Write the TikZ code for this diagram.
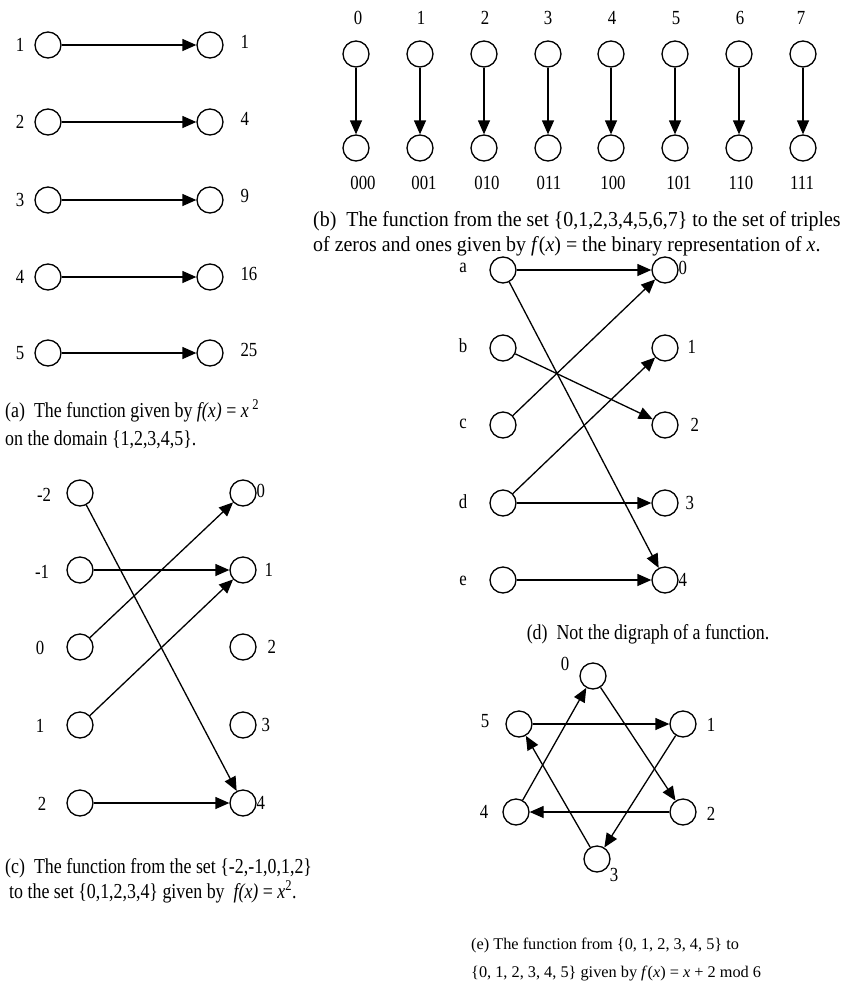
\documentclass[tikz,border=0pt]{standalone}
\usepackage{fontspec}
\setmainfont{Liberation Serif}[FakeStretch=0.84]
\newfontfamily\capbfont{Liberation Serif}[FakeStretch=0.935]
\newfontfamily\capefont{Liberation Serif}
\usetikzlibrary{arrows.meta}

\begin{document}
\begin{tikzpicture}[x=1pt,y=-1pt,
 every node/.style={font=\fontsize{20}{23}\selectfont},
 vertex/.style={circle,draw,line width=1.3pt,inner sep=0pt,minimum size=26pt},
 link/.style={line width=1.3pt,-{Triangle[length=14pt,width=12pt]}},
 caption/.style={anchor=base west,inner sep=0pt,font=\fontsize{21.3}{25}\selectfont},
 bcaption/.style={caption,font=\capbfont\fontsize{21.3}{25}\selectfont},
 ecaption/.style={anchor=base west,inner sep=0pt,
   font=\capefont\fontsize{16.3}{20}\selectfont}]
 \path[use as bounding box] (0,0) rectangle (850,996);
 % (a) squares of 1..5
 \node[vertex] (dom1) at (48,45) {};
 \node[vertex] (dom2) at (48,122) {};
 \node[vertex] (dom3) at (48,200) {};
 \node[vertex] (dom4) at (48,277) {};
 \node[vertex] (dom5) at (48,353) {};
 \node[vertex] (img1) at (210,45) {};
 \node[vertex] (img4) at (210,122) {};
 \node[vertex] (img9) at (210,200) {};
 \node[vertex] (img16) at (210,277) {};
 \node[vertex] (img25) at (210,353) {};
 \node (tdom1) at (20,45) {1};
 \node (tdom2) at (20,122) {2};
 \node (tdom3) at (20,200) {3};
 \node (tdom4) at (20,277) {4};
 \node (tdom5) at (20,353) {5};
 \node[anchor=west] (timg1) at (237,42) {1};
 \node[anchor=west] (timg4) at (237,119) {4};
 \node[anchor=west] (timg9) at (237,196) {9};
 \node[anchor=west] (timg16) at (237,274) {16};
 \node[anchor=west] (timg25) at (237,350) {25};
 \draw[link] (dom1)--(img1);
 \draw[link] (dom2)--(img4);
 \draw[link] (dom3)--(img9);
 \draw[link] (dom4)--(img16);
 \draw[link] (dom5)--(img25);
 \node[caption] (capA1) at (5,417)
      {(a)\ \ The function given by \textit{f(x)} = \textit{x}\,\textsuperscript{2}};
 \node[caption] (capA2) at (5,445) {on the domain \{1,2,3,4,5\}.};
 % (b) binary representation
 \node[vertex] (num0) at (356,54) {};
 \node[vertex] (num1) at (420,54) {};
 \node[vertex] (num2) at (484,54) {};
 \node[vertex] (num3) at (548,54) {};
 \node[vertex] (num4) at (611,54) {};
 \node[vertex] (num5) at (675,54) {};
 \node[vertex] (num6) at (739,54) {};
 \node[vertex] (num7) at (803,54) {};
 \node[vertex] (bin0) at (356,148) {};
 \node[vertex] (bin1) at (420,148) {};
 \node[vertex] (bin2) at (484,148) {};
 \node[vertex] (bin3) at (548,148) {};
 \node[vertex] (bin4) at (611,148) {};
 \node[vertex] (bin5) at (675,148) {};
 \node[vertex] (bin6) at (739,148) {};
 \node[vertex] (bin7) at (803,148) {};
 \node (tnum0) at (358,18) {0};
 \node (tnum1) at (421,18) {1};
 \node (tnum2) at (485,18) {2};
 \node (tnum3) at (548,18) {3};
 \node (tnum4) at (612,18) {4};
 \node (tnum5) at (676,18) {5};
 \node (tnum6) at (740,18) {6};
 \node (tnum7) at (801,18) {7};
 \node (tbin0) at (363,183) {000};
 \node (tbin1) at (424,183) {001};
 \node (tbin2) at (487,183) {010};
 \node (tbin3) at (549,183) {011};
 \node (tbin4) at (613,183) {100};
 \node (tbin5) at (679,183) {101};
 \node (tbin6) at (741,183) {110};
 \node (tbin7) at (802,183) {111};
 \draw[link] (num0)--(bin0);
 \draw[link] (num1)--(bin1);
 \draw[link] (num2)--(bin2);
 \draw[link] (num3)--(bin3);
 \draw[link] (num4)--(bin4);
 \draw[link] (num5)--(bin5);
 \draw[link] (num6)--(bin6);
 \draw[link] (num7)--(bin7);
 \node[bcaption] (capB1) at (313,226)
      {(b)\ \ The function from the set \{0,1,2,3,4,5,6,7\} to the set of triples};
 \node[bcaption] (capB2) at (313,251)
      {of zeros and ones given by \textit{f}(\textit{x}) = the binary representation of \textit{x}.};
 % (c) squares of -2..2
 \node[vertex] (sqm2) at (80,493) {};
 \node[vertex] (sqm1) at (80,570) {};
 \node[vertex] (sq0) at (80,647) {};
 \node[vertex] (sq1) at (80,725) {};
 \node[vertex] (sq2) at (80,803) {};
 \node[vertex] (val0) at (243,493) {};
 \node[vertex] (val1) at (243,570) {};
 \node[vertex] (val2) at (243,647) {};
 \node[vertex] (val3) at (243,725) {};
 \node[vertex] (val4) at (243,803) {};
 \node (tsqm2) at (44,495) {-2};
 \node (tsqm1) at (42,572) {-1};
 \node (tsq0) at (40,648) {0};
 \node (tsq1) at (40,726) {1};
 \node (tsq2) at (42,804) {2};
 \node[anchor=west] (tval0) at (253,491) {0};
 \node[anchor=west] (tval1) at (261,570) {1};
 \node[anchor=west] (tval2) at (264,647) {2};
 \node[anchor=west] (tval3) at (258,725) {3};
 \node[anchor=west] (tval4) at (253,803) {4};
 \draw[link] (sqm2)--(val4);
 \draw[link] (sqm1)--(val1);
 \draw[link] (sq0)--(val0);
 \draw[link] (sq1)--(val1);
 \draw[link] (sq2)--(val4);
 \node[caption] (capC1) at (5,873)
      {(c)\ \ The function from the set \{-2,-1,0,1,2\}};
 \node[caption] (capC2) at (9,898)
      {to the set \{0,1,2,3,4\} given by\ \ \textit{f(x)} = \textit{x}\textsuperscript{2}.};
 % (d) a relation that is not a function
 \node[vertex] (rela) at (503,270) {};
 \node[vertex] (relb) at (503,348) {};
 \node[vertex] (relc) at (503,425) {};
 \node[vertex] (reld) at (503,503) {};
 \node[vertex] (rele) at (503,580) {};
 \node[vertex] (rel0) at (665,270) {};
 \node[vertex] (rel1) at (665,348) {};
 \node[vertex] (rel2) at (665,425) {};
 \node[vertex] (rel3) at (665,503) {};
 \node[vertex] (rel4) at (665,580) {};
 \node (trela) at (463,268) {a};
 \node (trelb) at (463,346) {b};
 \node (trelc) at (463,424) {c};
 \node (treld) at (463,502) {d};
 \node (trele) at (463,581) {e};
 \node[anchor=west] (trel0) at (675,268) {0};
 \node[anchor=west] (trel1) at (684,347) {1};
 \node[anchor=west] (trel2) at (687,425) {2};
 \node[anchor=west] (trel3) at (682,503) {3};
 \node[anchor=west] (trel4) at (675,580) {4};
 \draw[link] (rela)--(rel0);
 \draw[link] (rela)--(rel4);
 \draw[link] (relb)--(rel2);
 \draw[link] (relc)--(rel0);
 \draw[link] (reld)--(rel1);
 \draw[link] (reld)--(rel3);
 \draw[link] (rele)--(rel4);
 \node[caption,anchor=base] (capD) at (648,639) {(d)\ \ Not the digraph of a function.};
 % (e) x + 2 mod 6
 \node[vertex] (mod0) at (593,676) {};
 \node[vertex] (mod1) at (683,724) {};
 \node[vertex] (mod2) at (683,812) {};
 \node[vertex] (mod3) at (597,859) {};
 \node[vertex] (mod4) at (516,812) {};
 \node[vertex] (mod5) at (519,724) {};
 \node (tmod0) at (565,664) {0};
 \node (tmod1) at (711,725) {1};
 \node (tmod2) at (711,814) {2};
 \node (tmod3) at (614,875) {3};
 \node (tmod4) at (484,812) {4};
 \node (tmod5) at (485,721) {5};
 \draw[link] (mod0)--(mod2);
 \draw[link] (mod1)--(mod3);
 \draw[link] (mod2)--(mod4);
 \draw[link] (mod3)--(mod5);
 \draw[link] (mod4)--(mod0);
 \draw[link] (mod5)--(mod1);
 \node[ecaption] (capE1) at (471,949) {(e) The function from \{0, 1, 2, 3, 4, 5\} to};
 \node[ecaption] (capE2) at (471,977)
      {\{0, 1, 2, 3, 4, 5\} given by \textit{f}(\textit{x}) = \textit{x} + 2 mod 6};
\end{tikzpicture}
\end{document}
